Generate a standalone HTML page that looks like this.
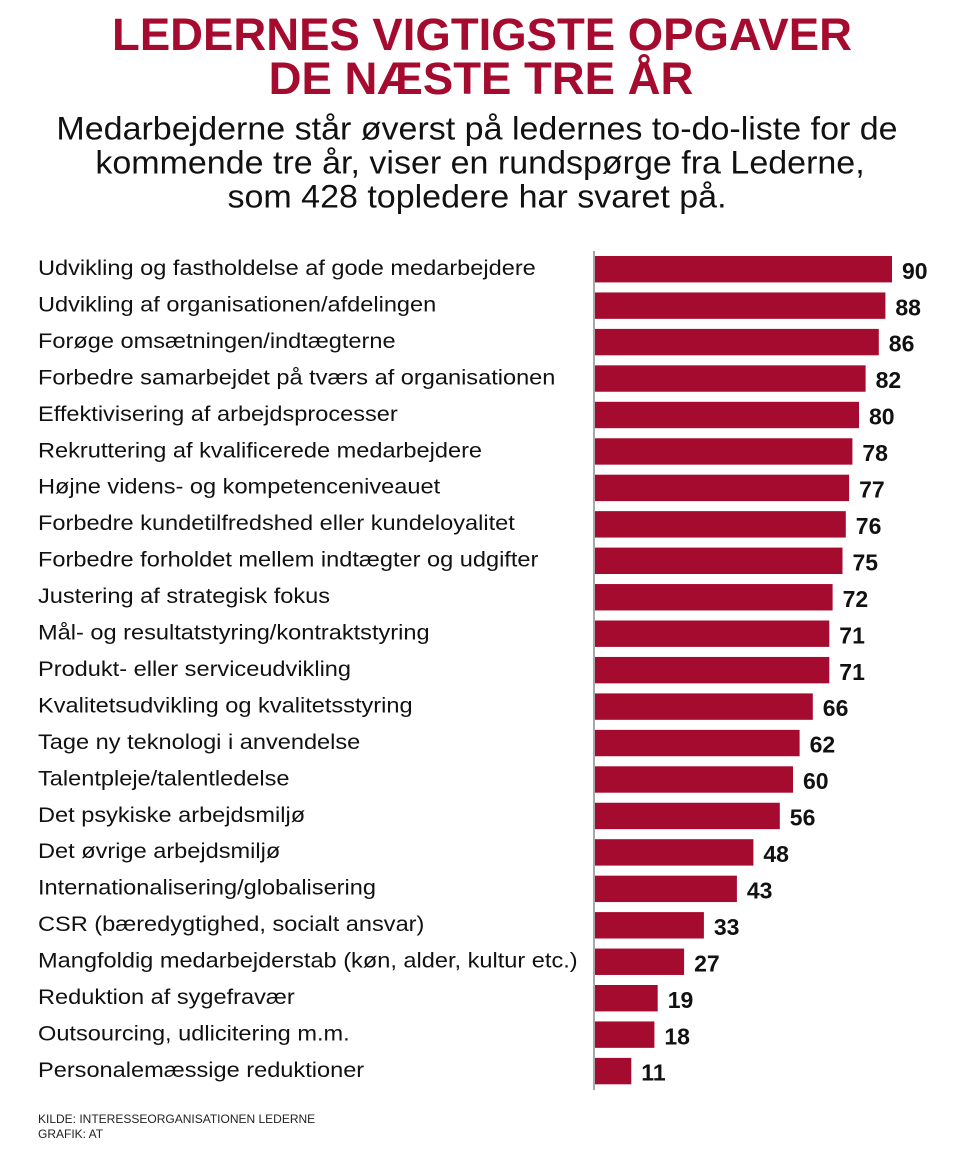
<!DOCTYPE html>
<html>
<head>
<meta charset="utf-8">
<style>
  html,body{margin:0;padding:0;background:#fff;}
  body{width:960px;height:1156px;overflow:hidden;}
  svg{display:block;}
  .t{font-family:"Liberation Sans",Arial,sans-serif;font-weight:bold;font-size:45.5px;fill:#a50b2f;}
  .s{font-family:"Liberation Sans",Arial,sans-serif;font-size:32px;fill:#111;}
  .l{font-family:"Liberation Sans",Arial,sans-serif;font-size:21.5px;fill:#111;}
  .v{font-family:"Liberation Sans",Arial,sans-serif;font-weight:bold;font-size:23px;fill:#111;}
  .f{font-family:"Liberation Sans",Arial,sans-serif;font-size:12px;fill:#222;}
</style>
</head>
<body>
<svg width="960" height="1156" viewBox="0 0 960 1156" xmlns="http://www.w3.org/2000/svg">
  <text class="t" x="482" y="50" text-anchor="middle">LEDERNES VIGTIGSTE OPGAVER</text>
  <text class="t" x="481" y="94" text-anchor="middle">DE NÆSTE TRE ÅR</text>

  <text class="s" text-anchor="middle" transform="translate(477,139.5) scale(1.063,1)">Medarbejderne står øverst på ledernes to-do-liste for de</text>
  <text class="s" text-anchor="middle" transform="translate(480,173.5) scale(1.063,1)">kommende tre år, viser en rundspørge fra Lederne,</text>
  <text class="s" text-anchor="middle" transform="translate(477,207.5) scale(1.063,1)">som 428 topledere har svaret på.</text>

  <line x1="594" y1="251" x2="594" y2="1090" stroke="#8a8a8a" stroke-width="1.5"/>

  <g fill="#a50b2f">
    <rect x="595" y="256.0" width="297.0" height="26.4"/>
    <rect x="595" y="292.45" width="290.4" height="26.4"/>
    <rect x="595" y="328.9" width="283.8" height="26.4"/>
    <rect x="595" y="365.35" width="270.6" height="26.4"/>
    <rect x="595" y="401.8" width="264.0" height="26.4"/>
    <rect x="595" y="438.25" width="257.4" height="26.4"/>
    <rect x="595" y="474.7" width="254.1" height="26.4"/>
    <rect x="595" y="511.15" width="250.8" height="26.4"/>
    <rect x="595" y="547.6" width="247.5" height="26.4"/>
    <rect x="595" y="584.05" width="237.6" height="26.4"/>
    <rect x="595" y="620.5" width="234.3" height="26.4"/>
    <rect x="595" y="656.95" width="234.3" height="26.4"/>
    <rect x="595" y="693.4" width="217.8" height="26.4"/>
    <rect x="595" y="729.85" width="204.6" height="26.4"/>
    <rect x="595" y="766.3" width="198.0" height="26.4"/>
    <rect x="595" y="802.75" width="184.8" height="26.4"/>
    <rect x="595" y="839.2" width="158.4" height="26.4"/>
    <rect x="595" y="875.65" width="141.9" height="26.4"/>
    <rect x="595" y="912.1" width="108.9" height="26.4"/>
    <rect x="595" y="948.55" width="89.1" height="26.4"/>
    <rect x="595" y="985.0" width="62.7" height="26.4"/>
    <rect x="595" y="1021.45" width="59.4" height="26.4"/>
    <rect x="595" y="1057.9" width="36.3" height="26.4"/>
  </g>

  <g class="l">
    <text transform="translate(38,275) scale(1.097,1)">Udvikling og fastholdelse af gode medarbejdere</text>
    <text transform="translate(38,311.45) scale(1.097,1)">Udvikling af organisationen/afdelingen</text>
    <text transform="translate(38,347.9) scale(1.097,1)">Forøge omsætningen/indtægterne</text>
    <text transform="translate(38,384.35) scale(1.097,1)">Forbedre samarbejdet på tværs af organisationen</text>
    <text transform="translate(38,420.8) scale(1.097,1)">Effektivisering af arbejdsprocesser</text>
    <text transform="translate(38,457.25) scale(1.097,1)">Rekruttering af kvalificerede medarbejdere</text>
    <text transform="translate(38,493.7) scale(1.097,1)">Højne videns- og kompetenceniveauet</text>
    <text transform="translate(38,530.15) scale(1.097,1)">Forbedre kundetilfredshed eller kundeloyalitet</text>
    <text transform="translate(38,566.6) scale(1.097,1)">Forbedre forholdet mellem indtægter og udgifter</text>
    <text transform="translate(38,603.05) scale(1.097,1)">Justering af strategisk fokus</text>
    <text transform="translate(38,639.5) scale(1.097,1)">Mål- og resultatstyring/kontraktstyring</text>
    <text transform="translate(38,675.95) scale(1.097,1)">Produkt- eller serviceudvikling</text>
    <text transform="translate(38,712.4) scale(1.097,1)">Kvalitetsudvikling og kvalitetsstyring</text>
    <text transform="translate(38,748.85) scale(1.097,1)">Tage ny teknologi i anvendelse</text>
    <text transform="translate(38,785.3) scale(1.097,1)">Talentpleje/talentledelse</text>
    <text transform="translate(38,821.75) scale(1.097,1)">Det psykiske arbejdsmiljø</text>
    <text transform="translate(38,858.2) scale(1.097,1)">Det øvrige arbejdsmiljø</text>
    <text transform="translate(38,894.65) scale(1.097,1)">Internationalisering/globalisering</text>
    <text transform="translate(38,931.1) scale(1.097,1)">CSR (bæredygtighed, socialt ansvar)</text>
    <text transform="translate(38,967.55) scale(1.097,1)">Mangfoldig medarbejderstab (køn, alder, kultur etc.)</text>
    <text transform="translate(38,1004.0) scale(1.097,1)">Reduktion af sygefravær</text>
    <text transform="translate(38,1040.45) scale(1.097,1)">Outsourcing, udlicitering m.m.</text>
    <text transform="translate(38,1076.9) scale(1.097,1)">Personalemæssige reduktioner</text>
  </g>

  <g class="v">
    <text x="902.0" y="278.8">90</text>
    <text x="895.4" y="315.25">88</text>
    <text x="888.8" y="351.7">86</text>
    <text x="875.6" y="388.15">82</text>
    <text x="869.0" y="424.6">80</text>
    <text x="862.4" y="461.05">78</text>
    <text x="859.1" y="497.5">77</text>
    <text x="855.8" y="533.95">76</text>
    <text x="852.5" y="570.4">75</text>
    <text x="842.6" y="606.85">72</text>
    <text x="839.3" y="643.3">71</text>
    <text x="839.3" y="679.75">71</text>
    <text x="822.8" y="716.2">66</text>
    <text x="809.6" y="752.65">62</text>
    <text x="803.0" y="789.1">60</text>
    <text x="789.8" y="825.55">56</text>
    <text x="763.4" y="862.0">48</text>
    <text x="746.9" y="898.45">43</text>
    <text x="713.9" y="934.9">33</text>
    <text x="694.1" y="971.35">27</text>
    <text x="667.7" y="1007.8">19</text>
    <text x="664.4" y="1044.25">18</text>
    <text x="641.3" y="1080.7">11</text>
  </g>

  <text class="f" x="38" y="1123">KILDE: INTERESSEORGANISATIONEN LEDERNE</text>
  <text class="f" x="38" y="1138">GRAFIK: AT</text>
</svg>
</body>
</html>
